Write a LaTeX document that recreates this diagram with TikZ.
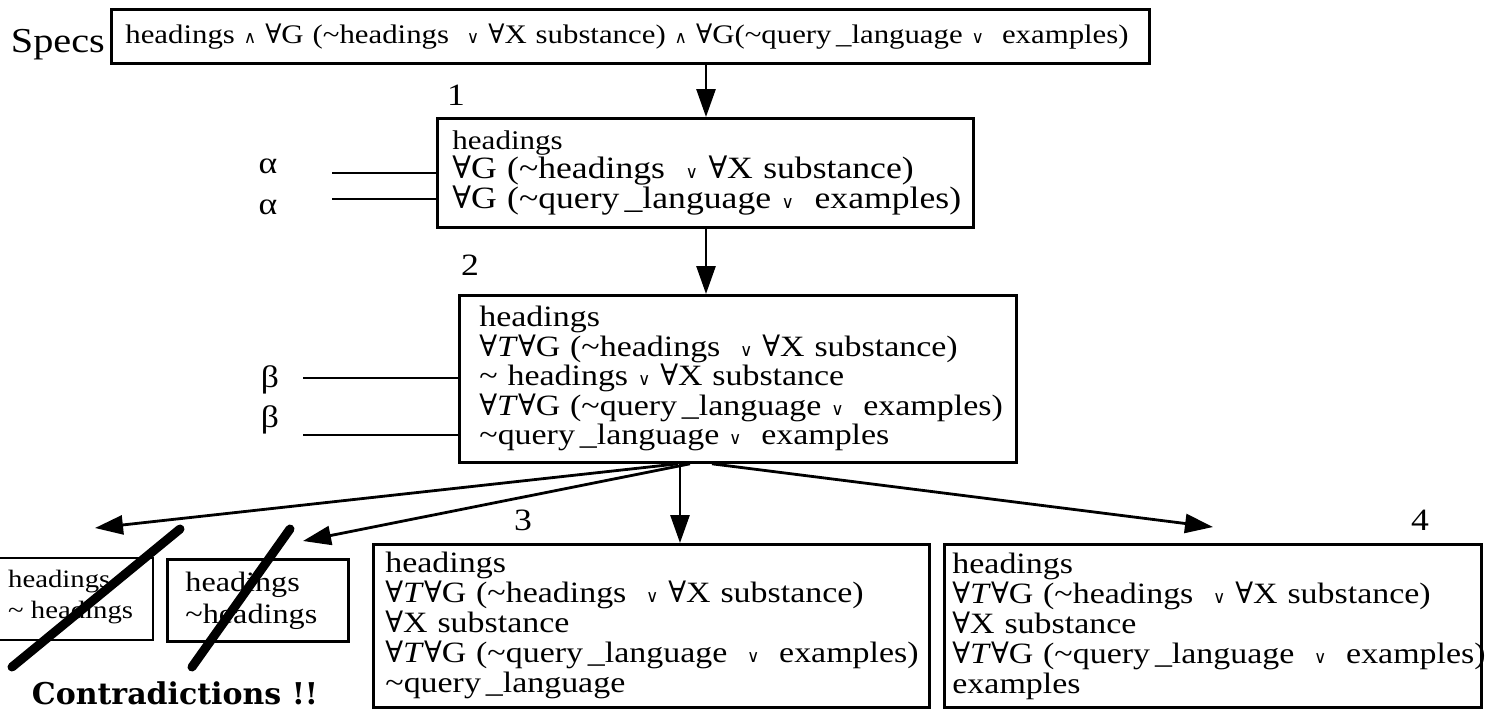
\documentclass[tikz,border=0pt]{standalone}
\usepackage{fontspec}
\setmainfont{Liberation Serif}[FakeStretch=1.15]
\newfontfamily\symf{DejaVu Serif}
\newfontfamily\boldf{DejaVu Serif}
\usetikzlibrary{arrows.meta}
\newcommand\FS[2]{\fontsize{#1}{#2}\selectfont}
\newcommand\FA{{\symf ∀}}
\newcommand\Vor{{\symf\fontsize{17}{17}\selectfont ∨}}
\newcommand\Wand{{\symf\fontsize{17}{17}\selectfont ∧}}
\newcommand\Tld{\textasciitilde}
\newcommand\fT{\textit{T}}
\newcommand\QL{query\,\_language}
\tikzset{
  box/.style={draw, line width=2.8pt, anchor=north west, align=left, inner ysep=0pt},
  frame/.style={draw, line width=2.8pt},
  conn/.style={line width=2.8pt},
  arr/.style={line width=2.8pt, -{Triangle[length=28pt,width=19pt]}},
  lbl/.style={inner sep=0pt, font=\FS{31}{31}},
  slash/.style={line width=9pt, line cap=round},
}
\begin{document}
\begin{tikzpicture}[x=1pt, y=-1pt]
\clip (0,0) rectangle (1493,718);
\fill[white] (0,0) rectangle (1493,718);
% top
\node[inner sep=0pt, anchor=base east, font=\FS{35}{35}] (specs) at (105,52) {Specs};
\node[box, inner xsep=14pt, text width=1010pt, minimum height=54pt, font=\FS{26.8}{30}] (spec) at (110,8)
  {\mbox{headings \Wand\ \FA G (\Tld headings \ \Vor\ \FA X substance) \Wand\ \FA G(\Tld\QL\ \Vor\ \ examples)}};
% box 1
\node[lbl] (n1) at (456,95) {1};
\node[box, inner xsep=15pt, text width=506pt, minimum height=109pt, font=\FS{31}{29.5}] (b1) at (436,117)
  {{\FS{27}{29.5}headings}\\
   \mbox{\FA G (\Tld headings \ \Vor\ \FA X substance)}\\
   \mbox{\FA G (\Tld\QL\ \Vor\ \ examples)}};
\node[lbl] (al1) at (268,166) {α};
\node[lbl] (al2) at (268,207) {α};
\coordinate (a1) at (332,173);
\coordinate (a2) at (332,199);
\draw[conn] (a1) -- (a1 -| b1.west);
\draw[conn] (a2) -- (a2 -| b1.west);
% box 2
\node[lbl] (n2) at (470,265) {2};
\node[box, inner xsep=20pt, text width=517pt, minimum height=167pt, font=\FS{29.5}{29.5}] (b2) at (458,294)
  {headings\\
   \mbox{\FA\fT\FA G (\Tld headings \ \Vor\ \FA X substance)}\\
   \mbox{\Tld\ headings \Vor\ \FA X substance}\\
   \mbox{\FA\fT\FA G (\Tld\QL\ \Vor\ \ examples)}\\
   \mbox{\Tld\QL\ \Vor\ \ examples}};
\node[lbl] (be1) at (270,380) {β};
\node[lbl] (be2) at (270,420) {β};
\coordinate (c1) at (303,378);
\coordinate (c2) at (303,435);
\draw[conn] (c1) -- (c1 -| b2.west);
\draw[conn] (c2) -- (c2 -| b2.west);
% vertical arrows
\coordinate (v) at (706,0);
\draw[arr] (v |- spec.south) -- (v |- b1.north);
\draw[arr] (v |- b1.south) -- (v |- b2.north);
% bottom boxes
\node[lbl] (n3) at (523,520) {3};
\node[lbl] (n4) at (1420,520) {4};
\node[box, inner xsep=12pt, text width=532pt, minimum height=163pt, font=\FS{29.5}{30}] (b3) at (372,543)
  {headings\\
   \mbox{\FA\fT\FA G (\Tld headings \ \Vor\ \FA X substance)}\\
   \mbox{\FA X substance}\\
   \mbox{\FA\fT\FA G (\Tld\QL\ \ \Vor\ \ examples)}\\
   \Tld\QL};
\node[box, inner xsep=8pt, text width=521pt, minimum height=163pt, font=\FS{29.5}{30}] (b4) at (943,543)
  {headings\\
   \mbox{\FA\fT\FA G (\Tld headings \ \Vor\ \FA X substance)}\\
   \mbox{\FA X substance}\\
   \mbox{\FA\fT\FA G (\Tld\QL\ \ \Vor\ \ examples)}\\
   examples};
% contradiction boxes
\draw[frame] (-10,558) rectangle (153,640);
\node[anchor=north west, align=left, inner sep=0pt, font=\FS{25}{31}] (k1) at (8,570) {headings\\\Tld\ headings};
\node[box, inner xsep=18pt, text width=145pt, minimum height=82pt, font=\FS{28}{32}] (k2) at (166,558)
  {headings\\\Tld headings};
\draw[slash] (12,667) -- (180,529);
\draw[slash] (192,667) -- (290,529);
\node[inner sep=0pt, font=\boldf\bfseries\FS{30}{30}] (contra) at (175,693) {Contradictions !!};
% bottom arrows
\coordinate (h1) at (678,0);
\coordinate (h2) at (690,0);
\coordinate (h3) at (680,0);
\coordinate (h4) at (712,0);
\coordinate (t1) at (95,528);
\coordinate (t2) at (303,541);
\coordinate (t4) at (1213,527);
\draw[arr] (h1 |- b2.south) -- (t1);
\draw[arr] (h2 |- b2.south) -- (t2);
\draw[arr] (h3 |- b2.south) -- (h3 |- b3.north);
\draw[arr] (h4 |- b2.south) -- (t4);
\end{tikzpicture}
\end{document}
